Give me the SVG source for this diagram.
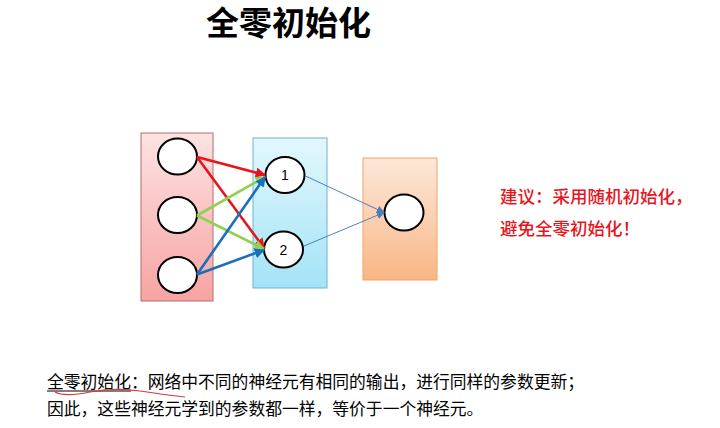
<svg xmlns="http://www.w3.org/2000/svg" width="720" height="428" viewBox="0 0 720 428">
<defs>
<linearGradient id="gRed" x1="0" y1="0" x2="0" y2="1"><stop offset="0" stop-color="#fde3e3"/><stop offset="1" stop-color="#f7a3a3"/></linearGradient>
<linearGradient id="gBlue" x1="0" y1="0" x2="0" y2="1"><stop offset="0" stop-color="#e3f7fd"/><stop offset="1" stop-color="#a3e3f6"/></linearGradient>
<linearGradient id="gOrange" x1="0" y1="0" x2="0" y2="1"><stop offset="0" stop-color="#fde8da"/><stop offset="1" stop-color="#f9b685"/></linearGradient>
<marker id="aRed" viewBox="0 0 10 10" refX="9" refY="5" markerWidth="4" markerHeight="4" orient="auto" markerUnits="strokeWidth"><path d="M0,0 L10,5 L0,10 z" fill="#e8141c"/></marker>
<marker id="aGreen" viewBox="0 0 10 10" refX="9" refY="5" markerWidth="4" markerHeight="4" orient="auto" markerUnits="strokeWidth"><path d="M0,0 L10,5 L0,10 z" fill="#92d050"/></marker>
<marker id="aBlue" viewBox="0 0 10 10" refX="9" refY="5" markerWidth="4" markerHeight="4" orient="auto" markerUnits="strokeWidth"><path d="M0,0 L10,5 L0,10 z" fill="#1a6fba"/></marker>
<marker id="aThin" viewBox="0 0 10 10" refX="9" refY="5" markerWidth="8" markerHeight="8" orient="auto" markerUnits="strokeWidth"><path d="M0,0 L10,5 L0,10 z" fill="#4f7fba"/></marker>
</defs>
<style>
.cjk{font-family:"Noto Sans CJK SC","Noto Sans",sans-serif;}
.node{fill:#fff;stroke:#000;stroke-width:2;}
.num{font-family:"Liberation Sans",Arial,sans-serif;font-size:14px;fill:#000;text-anchor:middle;}
.red{stroke:#e8141c;stroke-width:2.6;fill:none;marker-end:url(#aRed);}
.green{stroke:#92d050;stroke-width:2.6;fill:none;marker-end:url(#aGreen);}
.blue{stroke:#1a6fba;stroke-width:2.6;fill:none;marker-end:url(#aBlue);}
.thin{stroke:#4f7fba;stroke-width:1;fill:none;marker-end:url(#aThin);}
</style>
<rect width="720" height="428" fill="#fff"/>
<text class="cjk" x="206" y="35" font-size="33" font-weight="bold" fill="#000">全零初始化</text>

<g id="input-layer">
<rect x="141" y="133" width="72" height="168" fill="url(#gRed)" stroke="#b86a6a" stroke-width="1"/>
<g id="in1"><ellipse class="node" cx="177.5" cy="156.5" rx="19.5" ry="18"/></g>
<g id="in2"><ellipse class="node" cx="177.5" cy="215" rx="19.5" ry="18"/></g>
<g id="in3"><ellipse class="node" cx="177.5" cy="275" rx="19.5" ry="18"/></g>
</g>

<g id="hidden-layer">
<rect x="253" y="138" width="74" height="150" fill="url(#gBlue)" stroke="#6fb3cf" stroke-width="1"/>
<g id="h1"><ellipse class="node" cx="285" cy="175" rx="19.5" ry="18"/><text class="num" x="285" y="180">1</text></g>
<g id="h2"><ellipse class="node" cx="283.5" cy="249.5" rx="19.5" ry="18"/><text class="num" x="283.5" y="254.5">2</text></g>
</g>

<g id="output-layer">
<rect x="363" y="158" width="74" height="122" fill="url(#gOrange)" stroke="#f0a468" stroke-width="1"/>
<g id="out"><ellipse class="node" cx="404" cy="212.5" rx="19.5" ry="18"/></g>
</g>

<g id="connectors">
<line class="red" x1="197" y1="157" x2="265" y2="175"/>
<line class="red" x1="197" y1="157" x2="264" y2="248"/>
<line class="green" x1="197" y1="215.5" x2="265" y2="177"/>
<line class="green" x1="197" y1="215.5" x2="264" y2="249"/>
<line class="blue" x1="197" y1="274.5" x2="265" y2="177"/>
<line class="blue" x1="197" y1="274.5" x2="264" y2="250"/>
<line class="thin" x1="305.5" y1="176" x2="384" y2="212.5"/>
<line class="thin" x1="304" y1="246" x2="384" y2="212.5"/>
</g>

<g id="advice" class="cjk" font-size="17.5" font-weight="500" fill="#e8141c">
<text x="500" y="203">建议：采用随机初始化，</text>
<text x="500" y="235">避免全零初始化！</text>
</g>

<g id="note" class="cjk" font-size="16.8" fill="#000">
<text x="47" y="388">全零初始化：网络中不同的神经元有相同的输出，进行同样的参数更新；</text>
<text x="47" y="415">因此，这些神经元学到的参数都一样，等价于一个神经元。</text>
<line x1="47" y1="391" x2="131" y2="391" stroke="#000" stroke-width="1"/>
<path d="M55,392 C62,396 75,395 90,392 C105,389 120,388 140,391 C160,394 175,396 185,397" fill="none" stroke="#d43a3a" stroke-width="1.2"/>
</g>
</svg>
